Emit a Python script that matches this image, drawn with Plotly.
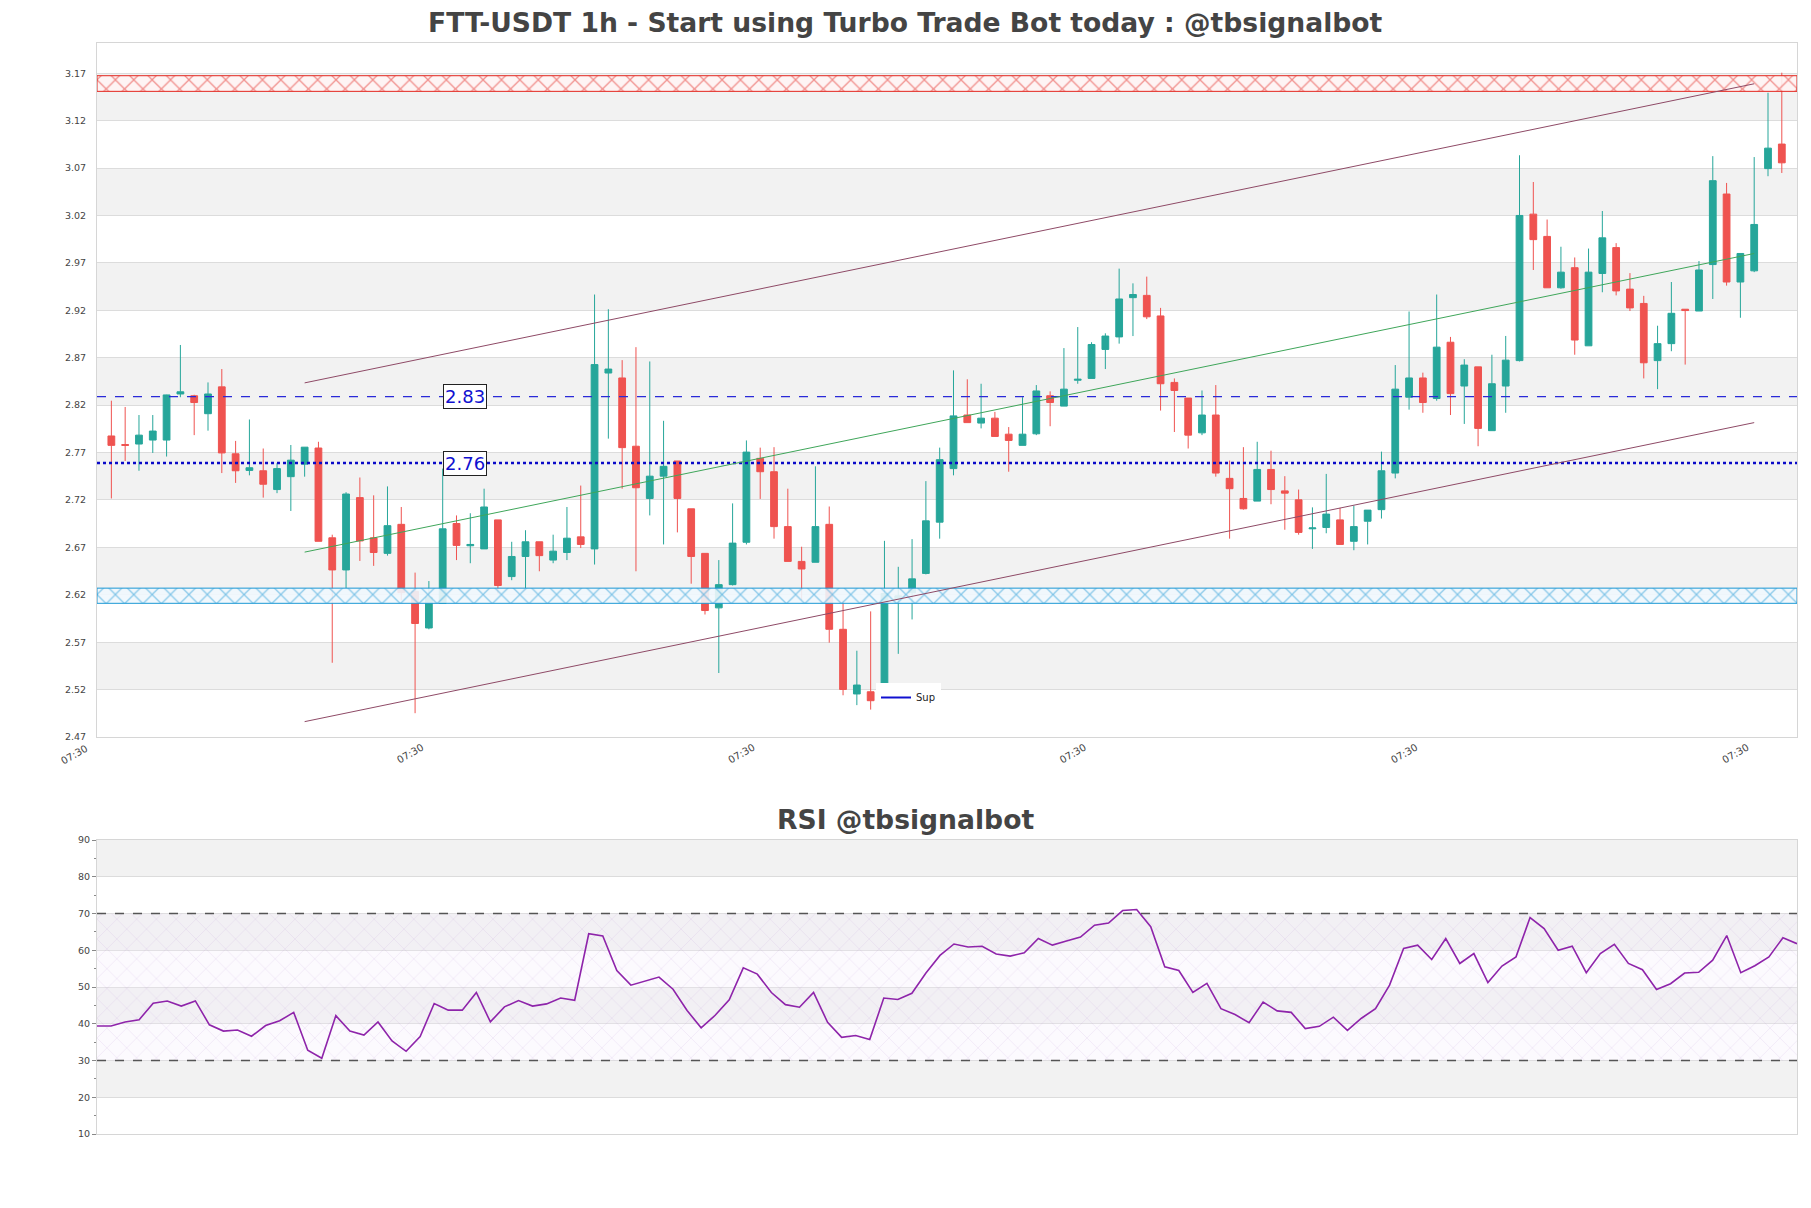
import pandas as pd
import plotly.graph_objects as go

# ---------------- data ----------------
title_main = "FTT-USDT 1h - Start using Turbo Trade Bot today : @tbsignalbot"
title_rsi = "RSI @tbsignalbot"
start_time = "2023-03-01 09:00"
tick_label = "07:30"

opens = [2.7875, 2.7785, 2.7790, 2.7832, 2.7832, 2.8318, 2.8299, 2.8110, 2.8393, 2.7687,
         2.7512, 2.7508, 2.7310, 2.7446, 2.7578, 2.7748, 2.6801, 2.6462, 2.7225, 2.6801,
         2.6637, 2.6943, 2.6236, 2.5850, 2.6109, 2.6952, 2.6717, 2.6684, 2.6990, 2.6392,
         2.6604, 2.6759, 2.6566, 2.6646, 2.6811, 2.6684, 2.8539, 2.8487, 2.7767, 2.7216,
         2.7451, 2.7611, 2.7107, 2.6637, 2.6062, 2.6307, 2.6754, 2.7639, 2.7498, 2.6919,
         2.6552, 2.6543, 2.6943, 2.5836, 2.5154, 2.5177, 2.5234, 2.6156, 2.6222, 2.6425,
         2.6966, 2.7531, 2.8096, 2.8011, 2.8063, 2.7894, 2.7776, 2.7898, 2.8299, 2.8190,
         2.8463, 2.8482, 2.8788, 2.8920, 2.9334, 2.9358, 2.9141, 2.8440, 2.8275, 2.7908,
         2.8096, 2.7428, 2.7216, 2.7188, 2.7522, 2.7296, 2.7202, 2.6896, 2.6910, 2.6990,
         2.6764, 2.6976, 2.7098, 2.7484, 2.8284, 2.8487, 2.8270, 2.8864, 2.8402, 2.8604,
         2.7931, 2.8402, 2.8670, 3.0215, 2.9980, 2.9438, 2.9650, 2.8826, 2.9589, 2.9862,
         2.9424, 2.9273, 2.8670, 2.8849, 2.9212, 2.9193, 2.9683, 3.0427, 2.9499, 2.9617,
         3.0695, 3.0954]
highs = [2.8247, 2.8181, 2.8096, 2.8096, 2.8310, 2.8835, 2.8310, 2.8440, 2.8581, 2.7823,
         2.8049, 2.7743, 2.7588, 2.7780, 2.7757, 2.7814, 2.6834, 2.7282, 2.7437, 2.7249,
         2.7343, 2.7126, 2.6434, 2.6345, 2.7531, 2.7037, 2.7060, 2.7319, 2.6990, 2.6759,
         2.6881, 2.6759, 2.6834, 2.7126, 2.7352, 2.9367, 2.9212, 2.8675, 2.8812, 2.8661,
         2.8035, 2.7611, 2.7107, 2.6637, 2.6566, 2.7164, 2.7828, 2.7752, 2.7757, 2.7319,
         2.6707, 2.7555, 2.7131, 2.6142, 2.5610, 2.6025, 2.6769, 2.6495, 2.6787, 2.7399,
         2.7752, 2.8567, 2.8473, 2.8426, 2.8129, 2.7969, 2.8284, 2.8412, 2.8346, 2.8802,
         2.9024, 2.8864, 2.8958, 2.9640, 2.9485, 2.9556, 2.9226, 2.8482, 2.8275, 2.8355,
         2.8412, 2.7616, 2.7757, 2.7814, 2.7720, 2.7451, 2.7310, 2.7122, 2.7475, 2.7117,
         2.7140, 2.7093, 2.7710, 2.8623, 2.9188, 2.8543, 2.9367, 2.8920, 2.8685, 2.8604,
         2.8732, 2.8930, 3.0836, 3.0554, 3.0158, 2.9871, 2.9758, 2.9852, 3.0248, 2.9909,
         2.9593, 2.9353, 2.9038, 2.9499, 2.9212, 2.9720, 3.0827, 3.0544, 2.9800, 3.0817,
         3.1495, 3.1707]
lows = [2.7216, 2.7611, 2.7508, 2.7696, 2.7658, 2.8284, 2.7884, 2.7931, 2.7484, 2.7380,
        2.7460, 2.7225, 2.7272, 2.7084, 2.7446, 2.6764, 2.5483, 2.6269, 2.6557, 2.6505,
        2.6613, 2.6142, 2.4951, 2.5836, 2.6109, 2.6566, 2.6533, 2.6684, 2.6213, 2.6354,
        2.6269, 2.6448, 2.6533, 2.6566, 2.6693, 2.6519, 2.7847, 2.7319, 2.6448, 2.7037,
        2.6731, 2.6858, 2.6317, 2.5992, 2.5375, 2.6298, 2.6731, 2.7211, 2.6792, 2.6552,
        2.6142, 2.6543, 2.5695, 2.5140, 2.5036, 2.4989, 2.5234, 2.5577, 2.5940, 2.6415,
        2.6792, 2.7460, 2.8016, 2.7955, 2.7870, 2.7498, 2.7776, 2.7884, 2.7978, 2.8190,
        2.8426, 2.8482, 2.8581, 2.8849, 2.8929, 2.9108, 2.8143, 2.7917, 2.7743, 2.7884,
        2.7446, 2.6792, 2.7098, 2.7188, 2.7155, 2.6886, 2.6834, 2.6684, 2.6849, 2.6731,
        2.6670, 2.6731, 2.7004, 2.7428, 2.8153, 2.8120, 2.8247, 2.8096, 2.8002, 2.7767,
        2.7931, 2.8120, 2.8661, 2.9626, 2.9438, 2.9428, 2.8732, 2.8826, 2.9391, 2.9358,
        2.9193, 2.8482, 2.8369, 2.8769, 2.8628, 2.9193, 2.9320, 2.9461, 2.9122, 2.9603,
        3.0615, 3.0649]
closes = [2.7776, 2.7776, 2.7884, 2.7927, 2.8308, 2.8341, 2.8228, 2.8318, 2.7696, 2.7508,
          2.7540, 2.7366, 2.7531, 2.7620, 2.7757, 2.6764, 2.6462, 2.7263, 2.6768, 2.6646,
          2.6929, 2.6222, 2.5897, 2.6175, 2.6896, 2.6721, 2.6731, 2.7126, 2.6298, 2.6604,
          2.6759, 2.6613, 2.6660, 2.6797, 2.6731, 2.8628, 2.8581, 2.7752, 2.7329, 2.7451,
          2.7555, 2.7216, 2.6604, 2.6034, 2.6307, 2.6745, 2.7705, 2.7498, 2.6919, 2.6552,
          2.6472, 2.6919, 2.5836, 2.5201, 2.5248, 2.5083, 2.6213, 2.6189, 2.6368, 2.6980,
          2.7625, 2.8087, 2.8016, 2.8063, 2.7870, 2.7828, 2.7894, 2.8350, 2.8228, 2.8369,
          2.8473, 2.8840, 2.8929, 2.9320, 2.9367, 2.9132, 2.8426, 2.8355, 2.7884, 2.8096,
          2.7484, 2.7319, 2.7107, 2.7522, 2.7310, 2.7272, 2.6858, 2.6905, 2.7051, 2.6731,
          2.6919, 2.7093, 2.7508, 2.8369, 2.8487, 2.8228, 2.8812, 2.8322, 2.8623, 2.7955,
          2.8426, 2.8675, 3.0201, 2.9946, 2.9438, 2.9603, 2.8887, 2.9603, 2.9965, 2.9405,
          2.9226, 2.8647, 2.8849, 2.9169, 2.9198, 2.9626, 3.0568, 2.9499, 2.9800, 3.0106,
          3.0911, 3.0756]
rsi = [39.4, 39.4, 40.5, 41.1, 45.6, 46.2, 44.8, 46.2, 39.7, 38.0,
       38.3, 36.6, 39.5, 40.8, 43.1, 32.8, 30.6, 42.2, 38.0, 36.9,
       40.5, 35.3, 32.5, 36.5, 45.5, 43.7, 43.7, 48.5, 40.5, 44.6,
       46.3, 44.8, 45.4, 47.0, 46.4, 64.5, 63.9, 54.5, 50.5, 51.6,
       52.7, 49.4, 43.6, 38.9, 42.3, 46.5, 55.2, 53.5, 48.5, 45.2,
       44.5, 48.5, 40.4, 36.3, 36.8, 35.7, 47.0, 46.6, 48.3, 53.8,
       58.6, 61.7, 60.9, 61.1, 59.0, 58.4, 59.3, 63.2, 61.4, 62.5,
       63.6, 66.8, 67.4, 70.8, 71.1, 66.4, 55.5, 54.5, 48.5, 51.0,
       44.1, 42.5, 40.3, 45.9, 43.5, 43.1, 38.7, 39.3, 41.8, 38.2,
       41.5, 44.1, 50.5, 60.5, 61.4, 57.5, 63.2, 56.4, 59.1, 51.2,
       55.7, 58.2, 68.9, 65.9, 60.0, 61.1, 53.9, 59.1, 61.6, 56.4,
       54.7, 49.3, 50.9, 53.8, 54.0, 57.3, 64.0, 53.9, 55.8, 58.2,
       63.4, 61.8]

price_ticks = [2.47, 2.52, 2.57, 2.62, 2.67, 2.72, 2.77, 2.82, 2.87, 2.92, 2.97, 3.02, 3.07, 3.12, 3.17]
rsi_ticks = [10, 20, 30, 40, 50, 60, 70, 80, 90]
resistance_zone = [3.151, 3.1675]
support_zone = [2.611, 2.627]
level_dashed = 2.829
level_dotted = 2.759
channel_idx = [14, 119]
channel_upper = [2.8435, 3.1590]
channel_mid = [2.6650, 2.9800]
channel_lower = [2.4862, 2.8016]
rsi_levels = [30, 70]

# ---------------- figure ----------------
W, H = 1811, 1208
times = pd.date_range(start_time, periods=len(opens), freq="h")
hour = pd.Timedelta(hours=1)
x_main = [times[0] - 1.04 * hour, times[-1] + 1.1 * hour]
x_rsi = [times[0], times[-1]]
first_tick = times[0].normalize() + pd.Timedelta(tick_label + ":00")
# fraction of the x domain where the (out-of-range) first 07:30 tick falls
first_tick_frac = (first_tick - x_main[0]) / (x_main[1] - x_main[0])

dom_x = [97 / W, 1797 / W]
dom_y1 = [1 - 737 / H, 1 - 43 / H]
dom_y2 = [1 - 1134 / H, 1 - 840 / H]

FONT = "DejaVu Sans"
BAND = "#f2f2f2"
GRID = "#dcdcdc"

fig = go.Figure()

shapes = []
for k in range(1, len(price_ticks) - 1, 2):
    shapes.append(dict(type="rect", xref="x domain", yref="y", x0=0, x1=1,
                       y0=price_ticks[k], y1=price_ticks[k + 1],
                       fillcolor=BAND, line_width=0, layer="below"))
for k in range(1, len(rsi_ticks) - 1, 2):
    shapes.append(dict(type="rect", xref="x2 domain", yref="y2", x0=0, x1=1,
                       y0=rsi_ticks[k], y1=rsi_ticks[k + 1],
                       fillcolor=BAND, line_width=0, layer="below"))

# hatched zones
def zone(lo, hi, col, bg):
    return go.Scatter(
        x=[x_main[0], x_main[1], x_main[1], x_main[0], x_main[0]],
        y=[lo, lo, hi, hi, lo], mode="lines", fill="toself",
        fillcolor=bg,
        fillpattern=dict(shape="x", fgcolor=col, bgcolor=bg, size=13, solidity=0.18),
        line=dict(color=col, width=1), hoverinfo="skip", showlegend=False,
        xaxis="x", yaxis="y")

fig.add_trace(zone(resistance_zone[0], resistance_zone[1], "#e3261f", "rgba(255,244,244,0.9)"))
fig.add_trace(zone(support_zone[0], support_zone[1], "#1b98d5", "rgba(240,248,253,0.9)"))

# horizontal levels
fig.add_trace(go.Scatter(x=x_main, y=[level_dashed, level_dashed], mode="lines",
                         line=dict(color="#2a2ad8", width=1.2, dash="dash"),
                         showlegend=False, hoverinfo="skip", xaxis="x", yaxis="y"))
fig.add_trace(go.Scatter(x=x_main, y=[level_dotted, level_dotted], mode="lines",
                         line=dict(color="#0a0ac8", width=2.6, dash="dot"),
                         showlegend=False, hoverinfo="skip", xaxis="x", yaxis="y"))

# channel
cx = [times[channel_idx[0]], times[channel_idx[1]]]
for ys, col in [(channel_upper, "#8e4a66"), (channel_lower, "#8e4a66"), (channel_mid, "#3fa65a")]:
    fig.add_trace(go.Scatter(x=cx, y=ys, mode="lines", line=dict(color=col, width=1),
                             showlegend=False, hoverinfo="skip", xaxis="x", yaxis="y"))

# candles
fig.add_trace(go.Candlestick(
    x=times, open=opens, high=highs, low=lows, close=closes,
    increasing=dict(line=dict(color="#26a69a", width=1), fillcolor="#26a69a"),
    decreasing=dict(line=dict(color="#ef5350", width=1), fillcolor="#ef5350"),
    whiskerwidth=0, showlegend=False, xaxis="x", yaxis="y"))

# legend entry
fig.add_trace(go.Scatter(x=[None], y=[None], mode="lines", name="Sup",
                         line=dict(color="#1010d0", width=2), xaxis="x", yaxis="y"))

# RSI hatch band
fig.add_trace(go.Scatter(
    x=[x_rsi[0], x_rsi[1], x_rsi[1], x_rsi[0], x_rsi[0]],
    y=[rsi_levels[0], rsi_levels[0], rsi_levels[1], rsi_levels[1], rsi_levels[0]],
    mode="lines", fill="toself", fillcolor="rgba(0,0,0,0)",
    fillpattern=dict(shape="x", fgcolor="rgba(165,110,200,0.4)", bgcolor="rgba(245,235,250,0.25)",
                     size=14, solidity=0.08),
    line=dict(width=0), hoverinfo="skip", showlegend=False, xaxis="x2", yaxis="y2"))
for lv in rsi_levels:
    shapes.append(dict(type="line", xref="x2 domain", yref="y2", x0=0, x1=1, y0=lv, y1=lv,
                       line=dict(color="#555555", width=1.3, dash="dash")))

fig.add_trace(go.Scatter(x=times, y=rsi, mode="lines", line=dict(color="#8e24aa", width=1.6),
                         showlegend=False, xaxis="x2", yaxis="y2"))

title_font = dict(family=FONT, size=26.6, color="#444444", weight="bold")
annotations = [
    dict(text=title_main, x=0.5, y=1 - 22 / H, xref="paper", yref="paper", showarrow=False,
         font=title_font, xanchor="center", yanchor="middle"),
    dict(text=title_rsi, x=0.5, y=1 - 819 / H, xref="paper", yref="paper", showarrow=False,
         font=title_font, xanchor="center", yanchor="middle"),
    dict(text=tick_label, x=first_tick_frac, y=dom_y1[0] - 3 / H, xref="x domain", yref="paper",
         showarrow=False, textangle=-30, xanchor="right", yanchor="top", xshift=2,
         font=dict(family=FONT, size=10, color="#444444")),
]
for lv in [level_dashed, level_dotted]:
    annotations.append(dict(text=f"{lv:.2f}", x=times[25] + 0.6 * hour, y=lv, xref="x", yref="y",
                            showarrow=False, bgcolor="white", bordercolor="#222222",
                            borderwidth=1, borderpad=1,
                            font=dict(family=FONT, size=18, color="#1010d0")))

fig.update_layout(
    width=W, height=H, margin=dict(l=0, r=0, t=0, b=0, autoexpand=False),
    paper_bgcolor="white", plot_bgcolor="white",
    font=dict(family=FONT, color="#444444"),
    shapes=shapes, annotations=annotations,
    showlegend=True,
    legend=dict(x=876 / W, y=1 - 683 / H, xanchor="left", yanchor="top",
                bgcolor="white", font=dict(size=10, family=FONT, color="#222"),
                itemwidth=30, tracegroupgap=0),
    xaxis=dict(domain=dom_x, anchor="y", range=x_main, rangeslider=dict(visible=False),
               automargin=False,
               showgrid=False, zeroline=False, showline=True, mirror=True, linecolor="#d6d6d6",
               tick0=first_tick, dtick=24 * 3600 * 1000, tickformat="%H:%M", tickangle=-30,
               tickfont=dict(size=10, color="#444444"), ticks=""),
    yaxis=dict(domain=dom_y1, anchor="x", range=[price_ticks[0], 3.202], automargin=False,
               tick0=price_ticks[0], dtick=0.05, tickformat=".2f",
               showgrid=True, gridcolor=GRID, zeroline=False, showline=True, mirror=True,
               linecolor="#d6d6d6", tickfont=dict(size=9.5, color="#444444"), ticks="",
               ticklabelstandoff=8),
    xaxis2=dict(domain=dom_x, anchor="y2", range=x_rsi, showgrid=False, zeroline=False,
                automargin=False,
                showline=True, mirror=True, linecolor="#d6d6d6", showticklabels=False, ticks=""),
    yaxis2=dict(domain=dom_y2, anchor="x2", range=[rsi_ticks[0], rsi_ticks[-1]],
                automargin=False,
                tickvals=rsi_ticks, showgrid=True, gridcolor=GRID, zeroline=False,
                showline=True, mirror=True, linecolor="#d6d6d6",
                tickfont=dict(size=9.5, color="#444444"), ticks="outside", ticklen=4,
                tickcolor="#888888",
                minor=dict(dtick=5, ticks="outside", ticklen=2, tickcolor="#888888", showgrid=False)),
)

fig.write_html("out.html", config={"displayModeBar": False},
               post_script="document.body.style.margin='0';document.body.style.overflow='hidden';")
